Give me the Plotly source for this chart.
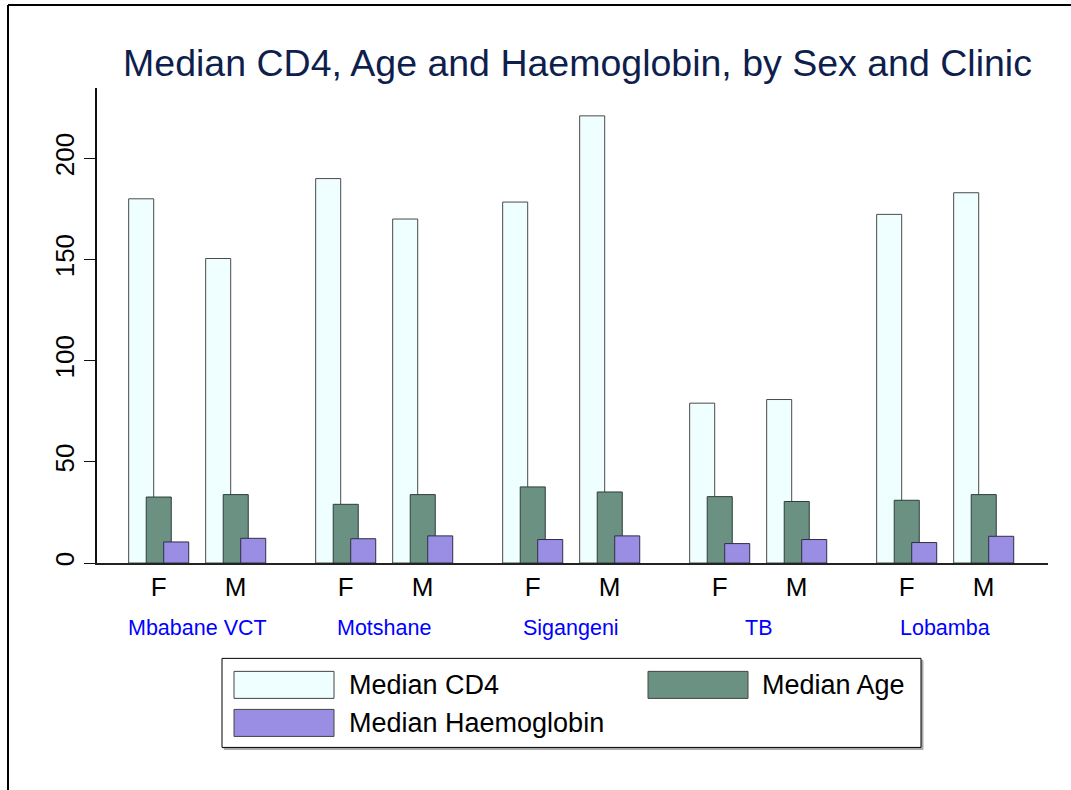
import plotly.graph_objects as go

# ---------------- data ----------------
clinics = ["Mbabane VCT", "Motshane", "Sigangeni", "TB", "Lobamba"]
sexes = ["F", "M"]
# order: clinic by clinic, F then M
median_cd4 = [180.0, 150.5, 190.0, 170.0, 178.4, 221.0, 79.0, 80.8, 172.3, 183.0]
median_age = [32.6, 33.8, 29.0, 33.8, 37.6, 35.1, 32.8, 30.4, 31.0, 33.8]
median_hgb = [10.4, 12.2, 12.0, 13.4, 11.6, 13.4, 9.6, 11.6, 10.1, 13.2]
series_names = ["Median CD4", "Median Age", "Median Haemoglobin"]
y_ticks = [0, 50, 100, 150, 200]

# ---------------- layout helpers ----------------
W, H = 1071, 790
PL, PR, PT, PB = 97, 1048, 88, 562.7   # plot area in page pixels
CLUSTER_GAP = 187 / 77                 # clinic spacing in x units (F->M = 1 unit)
BAR_W = 0.325
OFFSETS = [-0.39, -0.162, 0.065]
COLORS = ["#effefe", "#6a9182", "#998ee3"]
LINES = ["#4a4a4a", "#2f3d38", "#2f2f45"]
FONT = "Arial, Liberation Sans, sans-serif"


def px_x(p):
    return (p - PL) / (PR - PL)


def px_y(p):
    return (PB - p) / (PB - PT)


xpos = [ci * CLUSTER_GAP + si for ci in range(len(clinics)) for si in range(len(sexes))]
xlabels = [s for _ in clinics for s in sexes]

fig = go.Figure()
for name, vals, off, col, lc in zip(series_names, [median_cd4, median_age, median_hgb],
                                     OFFSETS, COLORS, LINES):
    fig.add_trace(go.Bar(
        x=xpos, y=vals, name=name, width=BAR_W, offset=off,
        marker=dict(color=col, line=dict(color=lc, width=1)),
        showlegend=False,
    ))

x_lo = -61.7 / 77
x_hi = xpos[-1] + 64.3 / 77

fig.update_layout(
    width=W, height=H,
    margin=dict(l=PL, r=W - PR, t=PT, b=H - PB, pad=0),
    barmode="overlay",
    plot_bgcolor="white", paper_bgcolor="white",
    font=dict(family=FONT, color="black"),
    title=dict(text="Median CD4, Age and Haemoglobin, by Sex and Clinic",
               x=577.5 / W, xanchor="center", y=1 - 63 / H, yanchor="middle",
               font=dict(size=37.5, color="#0f1f4d", family=FONT)),
    xaxis=dict(range=[x_lo, x_hi], showline=True, linecolor="#222", linewidth=1.5,
               ticks="", tickvals=xpos, ticktext=xlabels, showgrid=False, zeroline=False,
               tickfont=dict(size=26, color="black", family=FONT)),
    yaxis=dict(range=[0, (PB - PT) / 2.022], showline=True, linecolor="#111", linewidth=1.5,
               ticks="outside", ticklen=11, tickwidth=1.3, tickcolor="#111",
               tickvals=y_ticks, tickangle=-90, showgrid=False, zeroline=False,
               tickfont=dict(size=26, color="black", family=FONT)),
)

# clinic labels
for ci, c in enumerate(clinics):
    fig.add_annotation(x=ci * CLUSTER_GAP + 0.5, xref="x", y=px_y(628), yref="paper",
                       text=c, showarrow=False, xanchor="center", yanchor="middle",
                       font=dict(size=21.5, color="#0000ff", family=FONT))

shapes = []
# outer frame (top and left edges visible)
shapes.append(dict(type="line", xref="paper", yref="paper",
                   x0=px_x(8), x1=px_x(W + 5), y0=px_y(5), y1=px_y(5),
                   line=dict(color="black", width=2)))
shapes.append(dict(type="line", xref="paper", yref="paper",
                   x0=px_x(8), x1=px_x(8), y0=px_y(5), y1=px_y(H + 5),
                   line=dict(color="black", width=2)))
# legend box with shadow
shapes.append(dict(type="rect", xref="paper", yref="paper",
                   x0=px_x(224), x1=px_x(923), y0=px_y(749), y1=px_y(660),
                   line=dict(color="#aaaaaa", width=1), fillcolor="#aaaaaa"))
shapes.append(dict(type="rect", xref="paper", yref="paper",
                   x0=px_x(222), x1=px_x(921), y0=px_y(747), y1=px_y(658),
                   line=dict(color="black", width=1), fillcolor="white"))
legend_items = [
    (series_names[0], 234, 671, 347),
    (series_names[1], 648, 671, 760),
    (series_names[2], 234, 709, 347),
]
for (name, sx, sy, tx), col in zip(legend_items, [COLORS[0], COLORS[1], COLORS[2]]):
    shapes.append(dict(type="rect", xref="paper", yref="paper",
                       x0=px_x(sx), x1=px_x(sx + 100), y0=px_y(sy + 27), y1=px_y(sy),
                       line=dict(color="#444", width=1), fillcolor=col))
    fig.add_annotation(x=px_x(tx), xref="paper", y=px_y(sy + 14), yref="paper",
                       text=name, showarrow=False, xanchor="left", yanchor="middle",
                       font=dict(size=27, color="black", family=FONT))
fig.update_layout(shapes=shapes)

fig.write_html("out.html",
               config={"displayModeBar": False},
               post_script="document.body.style.margin='0';"
                           "document.body.style.overflow='hidden';")
